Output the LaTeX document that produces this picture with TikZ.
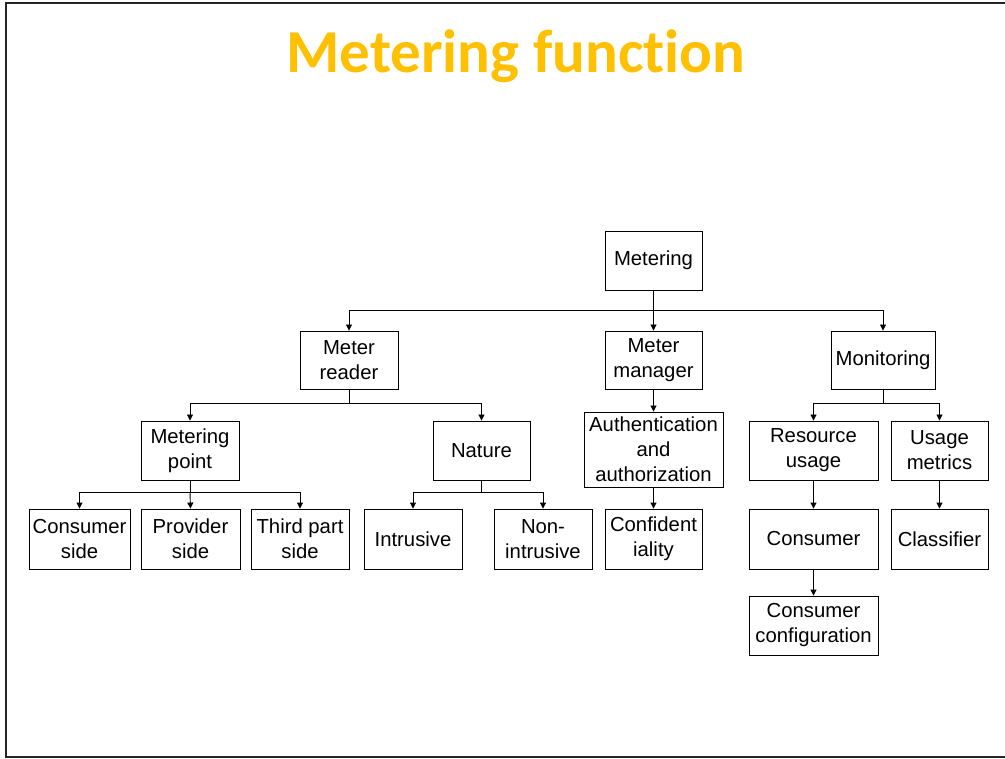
\documentclass[tikz,border=0pt]{standalone}
\usepackage{fontspec}
\usetikzlibrary{arrows.meta}
\newfontfamily\boxfont{Liberation Sans}
\newfontfamily\titlefont[Ligatures={NoCommon,NoDiscretionary,NoRare}]{Carlito}
\definecolor{titleorange}{HTML}{FFC000}
\begin{document}
\begin{tikzpicture}[x=1pt,y=-1pt,
  box/.style={draw, line width=0.9pt, inner sep=0pt, align=center,
    font=\boxfont\fontsize{20.3}{25}\selectfont},
  arr/.style={-{Triangle[length=6pt,width=6pt]}, line width=0.9pt},
  ln/.style={line width=0.9pt}]
\useasboundingbox (0,0) rectangle (1005,759);
\fill[white] (0,0) rectangle (1005,759);
\draw[line width=2pt, color=black!85] (1006,3) -- (6,3) -- (6,757) -- (1006,757);
\node[font=\titlefont\bfseries\fontsize{61}{70}\selectfont, text=titleorange] (title) at (516,56) {Metering function};

% level 0
\node[box, minimum width=97pt, minimum height=59pt] (m) at (653.5,260.5) {Metering};
% level 1
\node[box, minimum width=98pt, minimum height=58pt] (mr) at (349,360) {Meter\\reader};
\node[box, minimum width=97pt, minimum height=58pt] (mm) at (653.5,360) {Meter\\manager};
\node[box, minimum width=104pt, minimum height=58pt] (mon) at (883,360) {Monitoring};
% level 2
\node[box, minimum width=98pt, minimum height=59pt] (mp) at (190,450.5) {Metering\\point};
\node[box, minimum width=97pt, minimum height=59pt] (nat) at (481.5,450.5) {Nature};
\node[box, minimum width=139pt, minimum height=75pt] (auth) at (653.5,449.5) {Authentication\\and\\authorization};
\node[box, minimum width=129pt, minimum height=59pt] (ru) at (813.5,450.5) {Resource\\usage};
\node[box, minimum width=97pt, minimum height=59pt] (um) at (939.5,450.5) {Usage\\metrics};
% level 3
\node[box, minimum width=101pt, minimum height=60pt] (cs) at (79.5,539) {Consumer\\side};
\node[box, minimum width=99pt, minimum height=60pt] (ps) at (190.5,539) {Provider\\side};
\node[box, minimum width=98pt, minimum height=60pt] (tp) at (300,539) {Third part\\side};
\node[box, minimum width=98pt, minimum height=60pt] (intr) at (413,539) {Intrusive};
\node[box, minimum width=98pt, minimum height=60pt] (non) at (543,539) {Non-\\intrusive};
\node[box, minimum width=97pt, minimum height=60pt] (conf) at (653.5,539) {Confident\\iality};
\node[box, minimum width=129pt, minimum height=60pt] (cons) at (813.5,539) {Consumer};
\node[box, minimum width=97pt, minimum height=60pt] (cla) at (939.5,539) {Classifier};
% level 4
\node[box, minimum width=129pt, minimum height=59pt] (cc) at (813.5,625.5) {Consumer\\configuration};

% bus points
\coordinate (b1) at (653.5,310);
\coordinate (b2) at (349,403);
\coordinate (b3) at (883,403);
\coordinate (b4) at (190,492);
\coordinate (b5) at (481.5,492);

\draw[ln] (m.south) -- (b1);
\draw[arr] (b1) -| (mr.north);
\draw[arr] (b1) -- (mm.north);
\draw[arr] (b1) -| (mon.north);

\draw[ln] (mr.south) -- (b2);
\draw[arr] (b2) -| (mp.north);
\draw[arr] (b2) -| (nat.north);

\draw[arr] (mm.south) -- (auth.north);

\draw[ln] (mon.south) -- (b3);
\draw[arr] (b3) -| (ru.north);
\draw[arr] (b3) -| (um.north);

\draw[ln] (mp.south) -- (b4);
\draw[arr] (b4) -| (cs.north);
\draw[arr] (b4) -- (ps.north);
\draw[arr] (b4) -| (tp.north);

\draw[ln] (nat.south) -- (b5);
\draw[arr] (b5) -| (intr.north);
\draw[arr] (b5) -| (non.north);

\draw[arr] (auth.south) -- (conf.north);
\draw[arr] (ru.south) -- (cons.north);
\draw[arr] (um.south) -- (cla.north);
\draw[arr] (cons.south) -- (cc.north);
\end{tikzpicture}
\end{document}
